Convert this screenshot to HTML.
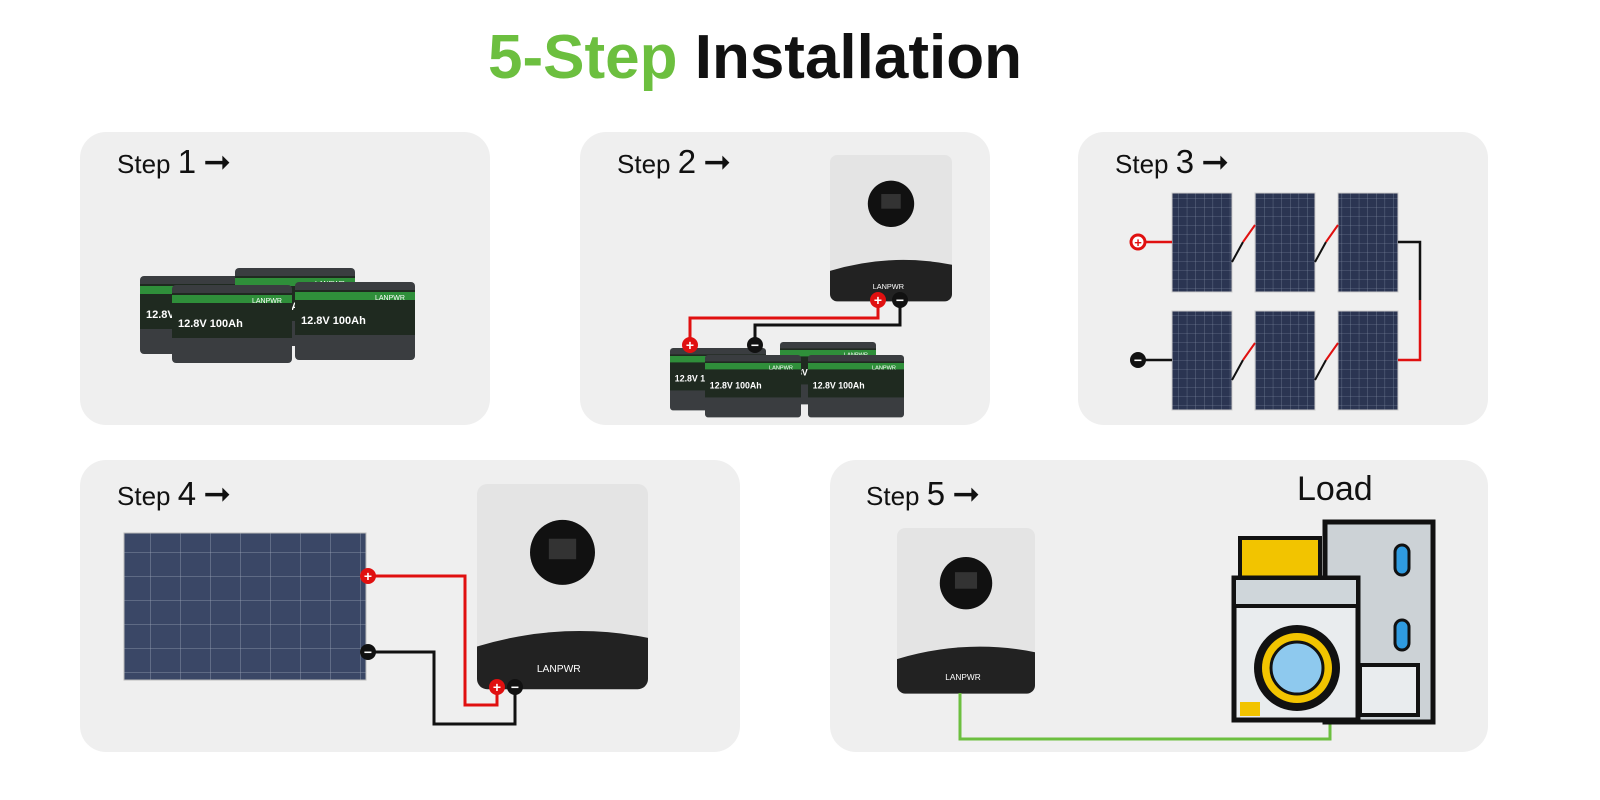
<!DOCTYPE html>
<html><head><meta charset="utf-8"><style>
html,body{margin:0;padding:0;background:#fff;}
body{width:1600px;height:800px;position:relative;overflow:hidden;font-family:"Liberation Sans",sans-serif;}
.p{position:absolute;background:#efefef;border-radius:26px;}
.t{position:absolute;font-size:26px;color:#111;}
.t b{font-weight:normal;font-size:33px;}
h1{position:absolute;left:0;width:1510px;top:22px;margin:0;text-align:center;font-size:62px;font-weight:bold;color:#111;}
h1 span{color:#6cbf3f;}
</style></head><body>
<h1><span>5-Step</span> Installation</h1>
<div class="p" style="left:80px;top:132px;width:410px;height:293px"></div>
<div class="p" style="left:580px;top:132px;width:410px;height:293px"></div>
<div class="p" style="left:1078px;top:132px;width:410px;height:293px"></div>
<div class="p" style="left:80px;top:460px;width:660px;height:292px"></div>
<div class="p" style="left:830px;top:460px;width:658px;height:292px"></div>
<div class="t" style="left:117px;top:142px">Step <b>1</b> <b>➞</b></div>
<div class="t" style="left:617px;top:142px">Step <b>2</b> <b>➞</b></div>
<div class="t" style="left:1115px;top:142px">Step <b>3</b> <b>➞</b></div>
<div class="t" style="left:117px;top:474px">Step <b>4</b> <b>➞</b></div>
<div class="t" style="left:866px;top:474px">Step <b>5</b> <b>➞</b></div>
<div class="t" style="left:1297px;top:470px;font-size:34px">Load</div>
<svg width="1600" height="800" style="position:absolute;left:0;top:0">
<defs>
<pattern id="sg" width="8.6" height="9" patternUnits="userSpaceOnUse"><rect width="8.6" height="9" fill="#2b3552"/><path d="M0 0H8.6M0 0V9" stroke="#8893a8" stroke-width="0.6"/></pattern>
<pattern id="bg" width="30" height="24" patternUnits="userSpaceOnUse"><rect width="30" height="24" fill="#3a4766"/><path d="M0 0H30M0 0V24" stroke="#9aa3b6" stroke-width="0.8"/></pattern>
<g id="bat"><rect x="0" y="0" width="120" height="78" rx="4" fill="#3a3d40"/><rect x="0" y="8" width="120" height="45" fill="#1f2a20"/><rect x="0" y="10" width="120" height="8" fill="#2f8f3a"/><text x="6" y="42" fill="#fff" font-size="11" font-weight="bold" font-family="Liberation Sans">12.8V 100Ah</text><text x="80" y="18" fill="#fff" font-size="7" font-family="Liberation Sans">LANPWR</text></g>
<g id="inv"><rect x="0" y="0" width="100" height="120" rx="6" fill="#e4e4e4"/><path d="M0 95 Q50 80 100 90 V114 a6 6 0 0 1 -6 6 H6 a6 6 0 0 1 -6 -6Z" fill="#222"/><circle cx="50" cy="40" r="19" fill="#111"/><rect x="42" y="32" width="16" height="12" fill="#333"/><text x="35" y="110" fill="#fff" font-size="6" font-family="Liberation Sans">LANPWR</text></g>
</defs>
<!-- step1 batteries -->
<use href="#bat" x="140" y="276" transform=""/>
<use href="#bat" x="235" y="268"/>
<use href="#bat" x="172" y="285"/>
<use href="#bat" x="295" y="282"/>
<!-- step2 -->
<use href="#inv" transform="translate(830,155) scale(1.22)"/>
<use href="#bat" transform="translate(670,348) scale(0.8)"/>
<use href="#bat" transform="translate(780,342) scale(0.8)"/>
<use href="#bat" transform="translate(705,355) scale(0.8)"/>
<use href="#bat" transform="translate(808,355) scale(0.8)"/>
<path d="M878 302V318H690V345" stroke="#e01010" stroke-width="3" fill="none"/>
<path d="M900 302V325H755V345" stroke="#111" stroke-width="3" fill="none"/>
<!-- step3 panels -->
<g stroke="#ccc" stroke-width="1">
<rect x="1172" y="193" width="60" height="99" fill="url(#sg)"/>
<rect x="1255" y="193" width="60" height="99" fill="url(#sg)"/>
<rect x="1338" y="193" width="60" height="99" fill="url(#sg)"/>
<rect x="1172" y="311" width="60" height="99" fill="url(#sg)"/>
<rect x="1255" y="311" width="60" height="99" fill="url(#sg)"/>
<rect x="1338" y="311" width="60" height="99" fill="url(#sg)"/>
</g>
<path d="M1142 242H1172" stroke="#e01010" stroke-width="2.5"/>
<path d="M1142 360H1172" stroke="#111" stroke-width="2.5"/>
<path d="M1232 262L1243 242M1315 262L1326 242M1232 380L1243 360M1315 380L1326 360" stroke="#111" stroke-width="2"/>
<path d="M1243 242L1255 225M1326 242L1338 225M1243 360L1255 343M1326 360L1338 343" stroke="#e01010" stroke-width="2"/>
<path d="M1398 242H1420V300" stroke="#111" stroke-width="2.5" fill="none"/>
<path d="M1420 300V360H1398" stroke="#e01010" stroke-width="2.5" fill="none"/>
<!-- step4 -->
<rect x="124" y="533" width="242" height="147" fill="url(#bg)" stroke="#bbb"/>
<use href="#inv" transform="translate(477,484) scale(1.71)"/>
<path d="M368 576H465V705H497V687" stroke="#e01010" stroke-width="3" fill="none"/>
<path d="M368 652H434V724H515V687" stroke="#111" stroke-width="3" fill="none"/>
<!-- step5 -->
<use href="#inv" transform="translate(897,528) scale(1.38)"/>
<path d="M960 693V739H1330V718" stroke="#6cbf3f" stroke-width="3" fill="none"/>
<!-- load -->
<rect x="1325" y="522" width="108" height="200" fill="#ccd2d6" stroke="#111" stroke-width="5"/>
<rect x="1395" y="545" width="14" height="30" rx="7" fill="#2f9be0" stroke="#111" stroke-width="3"/>
<rect x="1395" y="620" width="14" height="30" rx="7" fill="#2f9be0" stroke="#111" stroke-width="3"/>
<rect x="1240" y="538" width="80" height="45" fill="#f2c400" stroke="#111" stroke-width="4"/>
<rect x="1234" y="578" width="124" height="142" fill="#e9ecee" stroke="#111" stroke-width="5"/>
<rect x="1234" y="578" width="124" height="28" fill="#cfd6da" stroke="#111" stroke-width="4"/>
<circle cx="1297" cy="668" r="43" fill="#111"/>
<circle cx="1297" cy="668" r="35" fill="#f2c400"/>
<circle cx="1297" cy="668" r="26" fill="#8ec9ee" stroke="#111" stroke-width="3"/>
<rect x="1360" y="665" width="58" height="50" fill="#e9ecee" stroke="#111" stroke-width="4"/>
<rect x="1240" y="702" width="20" height="14" fill="#f2c400"/>
<!-- terminals -->
<g font-family="Liberation Sans" font-weight="bold" text-anchor="middle">
<circle cx="878" cy="300" r="8" fill="#e01010"/><text x="878" y="305" fill="#fff" font-size="14">+</text>
<circle cx="900" cy="300" r="8" fill="#111"/><text x="900" y="305" fill="#fff" font-size="14">−</text>
<circle cx="690" cy="345" r="8" fill="#e01010"/><text x="690" y="350" fill="#fff" font-size="14">+</text>
<circle cx="755" cy="345" r="8" fill="#111"/><text x="755" y="350" fill="#fff" font-size="14">−</text>
<circle cx="1138" cy="242" r="7" fill="#fff" stroke="#e01010" stroke-width="3"/><text x="1138" y="247" fill="#e01010" font-size="13">+</text>
<circle cx="1138" cy="360" r="8" fill="#111"/><text x="1138" y="365" fill="#fff" font-size="14">−</text>
<circle cx="368" cy="576" r="8" fill="#e01010"/><text x="368" y="581" fill="#fff" font-size="14">+</text>
<circle cx="368" cy="652" r="8" fill="#111"/><text x="368" y="657" fill="#fff" font-size="14">−</text>
<circle cx="497" cy="687" r="8" fill="#e01010"/><text x="497" y="692" fill="#fff" font-size="14">+</text>
<circle cx="515" cy="687" r="8" fill="#111"/><text x="515" y="692" fill="#fff" font-size="14">−</text>
</g>
</svg>
</body></html>
